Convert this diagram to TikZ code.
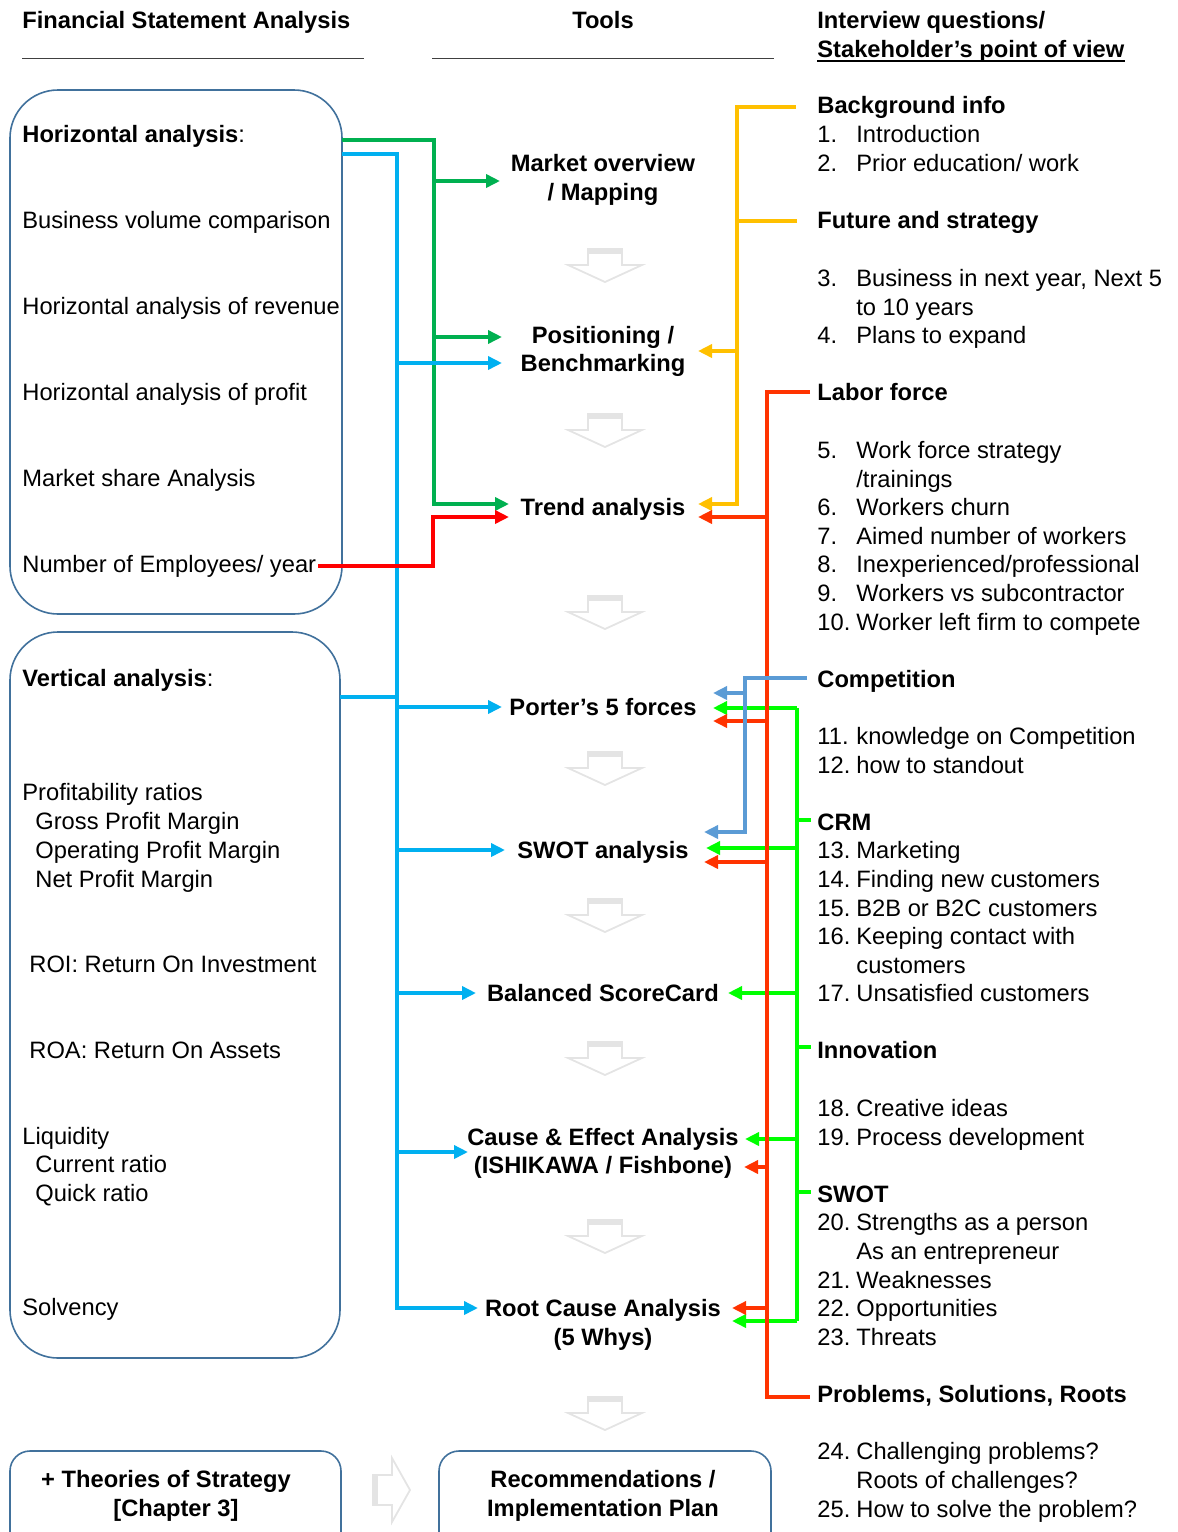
\documentclass[tikz,border=0pt]{standalone}
\usepackage{fontspec}
\setmainfont{Liberation Sans}
\usetikzlibrary{arrows.meta}
\definecolor{dgreen}{HTML}{00B050}
\definecolor{cblue}{HTML}{00B0F0}
\definecolor{cred}{HTML}{FF0000}
\definecolor{cyel}{HTML}{FFC000}
\definecolor{corange}{HTML}{FF3300}
\definecolor{cbgray}{HTML}{5B9BD5}
\definecolor{lgreen}{HTML}{00FF00}
\definecolor{boxblue}{HTML}{41719C}
\definecolor{hollowgray}{HTML}{E4E4E4}
\newcommand\TL[3]{\node[anchor=base west,inner sep=0] at (#1,#2+8) {#3};}
\newcommand\TC[3]{\node[anchor=base,inner sep=0] at (#1,#2+8) {#3};}
\newcommand\IT[3]{\node[anchor=base west,inner sep=0] at (817,#1+8) {#2};\node[anchor=base west,inner sep=0] at (856,#1+8) {#3};}
\newcommand\DARR[1]{%
  \draw[hollow] (588,#1) -- (622,#1) -- (622,#1+16) -- (642,#1+16) -- (605,#1+33) -- (568,#1+16) -- (588,#1+16) -- cycle;
  \fill[hollowgray] (588,#1) rectangle (622,#1+5);}
\begin{document}
\begin{tikzpicture}[x=0.5pt,y=-0.5pt,font=\fontsize{11.85}{14.5}\selectfont,
  hollow/.style={draw=hollowgray,line width=0.9pt,line join=miter},
  fbox/.style={draw=boxblue,line width=0.8pt},
  conn/.style={line width=2pt},
  tip/.style={-{Triangle[length=7pt,width=6.5pt]}},
  ]
\useasboundingbox (0,0) rectangle (1178,1532);
\clip (0,0) rectangle (1178,1532);

% headers
\TL{22}{20}{\bfseries Financial Statement Analysis}
\TC{603}{20}{\bfseries Tools}
\TL{817}{20}{\bfseries Interview questions/}
\node[anchor=base west,inner sep=0] (sh) at (817,57) {\bfseries Stakeholder’s point of view};
\draw[line width=1.1pt] ([yshift=-1.8pt]sh.base west) -- ([yshift=-1.8pt]sh.base east);
\draw[black!75,line width=0.5pt] (22,58) -- (364,58);
\draw[black!75,line width=0.5pt] (432,58) -- (774,58);

% left boxes
\draw[fbox,rounded corners=24pt] (10,90) rectangle (342,614);
\draw[fbox,rounded corners=24pt] (10,632) rectangle (340,1358);
\draw[fbox,rounded corners=10pt] (10,1451) rectangle (341,1580);
\draw[fbox,rounded corners=10pt] (439,1451) rectangle (771,1580);

\TL{22}{134}{{\bfseries Horizontal analysis}:}
\TL{22}{220}{Business volume comparison}
\TL{22}{306}{Horizontal analysis of revenue}
\TL{22}{392}{Horizontal analysis of profit}
\TL{22}{478}{Market share Analysis}
\TL{22}{564}{Number of Employees/ year}

\TL{22}{678}{{\bfseries Vertical analysis}:}
\TL{22}{792}{Profitability ratios}
\TL{35}{821}{Gross Profit Margin}
\TL{35}{850}{Operating Profit Margin}
\TL{35}{879}{Net Profit Margin}
\TL{29}{964}{ROI: Return On Investment}
\TL{29}{1050}{ROA: Return On Assets}
\TL{22}{1136}{Liquidity}
\TL{35}{1164}{Current ratio}
\TL{35}{1193}{Quick ratio}
\TL{22}{1307}{Solvency}

\TC{166}{1479}{\bfseries + Theories of Strategy}
\TC{176}{1508}{\bfseries [Chapter 3]}
\TC{603}{1479}{\bfseries Recommendations /}
\TC{603}{1508}{\bfseries Implementation Plan}

% tools
\TC{603}{163}{\bfseries Market overview}
\TC{603}{192}{\bfseries / Mapping}
\TC{603}{335}{\bfseries Positioning /}
\TC{603}{363}{\bfseries Benchmarking}
\TC{603}{507}{\bfseries Trend analysis}
\TC{603}{707}{\bfseries Porter’s 5 forces}
\TC{603}{850}{\bfseries SWOT analysis}
\TC{603}{993}{\bfseries Balanced ScoreCard}
\TC{603}{1137}{\bfseries Cause \& Effect Analysis}
\TC{603}{1165}{\bfseries (ISHIKAWA / Fishbone)}
\TC{603}{1308}{\bfseries Root Cause Analysis}
\TC{603}{1337}{\bfseries (5 Whys)}

% hollow arrows
\DARR{249}
\DARR{414}
\DARR{596}
\DARR{752}
\DARR{899}
\DARR{1042}
\DARR{1220}
\DARR{1397}
\draw[hollow] (373,1475) -- (392,1475) -- (392,1458) -- (410,1490) -- (392,1522) -- (392,1505) -- (373,1505) -- cycle;
\fill[hollowgray] (373,1475) rectangle (378,1505);

% right column
\TL{817}{105}{\bfseries Background info}
\IT{134}{1.}{Introduction}
\IT{163}{2.}{Prior education/ work}
\TL{817}{220}{\bfseries Future and strategy}
\IT{278}{3.}{Business in next year, Next 5}
\TL{856}{307}{to 10 years}
\IT{335}{4.}{Plans to expand}
\TL{817}{392}{\bfseries Labor force}
\IT{450}{5.}{Work force strategy}
\TL{856}{479}{/trainings}
\IT{507}{6.}{Workers churn}
\IT{536}{7.}{Aimed number of workers}
\IT{564}{8.}{Inexperienced/professional}
\IT{593}{9.}{Workers vs subcontractor}
\IT{622}{10.}{Worker left firm to compete}
\TL{817}{679}{\bfseries Competition}
\IT{736}{11.}{knowledge on Competition}
\IT{765}{12.}{how to standout}
\TL{817}{822}{\bfseries CRM}
\IT{850}{13.}{Marketing}
\IT{879}{14.}{Finding new customers}
\IT{908}{15.}{B2B or B2C customers}
\IT{936}{16.}{Keeping contact with}
\TL{856}{965}{customers}
\IT{993}{17.}{Unsatisfied customers}
\TL{817}{1050}{\bfseries Innovation}
\IT{1108}{18.}{Creative ideas}
\IT{1137}{19.}{Process development}
\TL{817}{1194}{\bfseries SWOT}
\IT{1222}{20.}{Strengths as a person}
\TL{856}{1251}{As an entrepreneur}
\IT{1280}{21.}{Weaknesses}
\IT{1308}{22.}{Opportunities}
\IT{1337}{23.}{Threats}
\TL{817}{1394}{\bfseries Problems, Solutions, Roots}
\IT{1451}{24.}{Challenging problems?}
\TL{856}{1480}{Roots of challenges?}
\IT{1509}{25.}{How to solve the problem?}

% connectors: dark green
\draw[conn,dgreen,tip] (342,140) -| (434,504) -- (509,504);
\draw[conn,dgreen,tip] (434,181) -- (500,181);
\draw[conn,dgreen,tip] (434,337) -- (502,337);
% blue
\draw[conn,cblue,tip] (342,154) -| (397,1308) -- (478,1308);
\draw[conn,cblue] (340,697) -- (397,697);
\draw[conn,cblue,tip] (397,363) -- (502,363);
\draw[conn,cblue,tip] (397,707) -- (502,707);
\draw[conn,cblue,tip] (397,850) -- (505,850);
\draw[conn,cblue,tip] (397,993) -- (476,993);
\draw[conn,cblue,tip] (397,1152) -- (468,1152);
% red
\draw[conn,cred,tip] (318,566) -| (433,517) -- (509,517);
% yellow
\draw[conn,cyel,line width=2.3pt,tip] (796,107) -| (737,504) -- (698,504);
\draw[conn,cyel,line width=2.3pt] (797,221) -- (737,221);
\draw[conn,cyel,line width=2.3pt,tip] (737,351) -- (698,351);
% bright green
\draw[conn,lgreen] (797,708) -- (797,1321);
\draw[conn,lgreen,tip] (797,708) -- (713,708);
\draw[conn,lgreen,tip] (797,848) -- (706,848);
\draw[conn,lgreen,tip] (797,993) -- (728,993);
\draw[conn,lgreen,tip] (797,1139) -- (745,1139);
\draw[conn,lgreen,tip] (797,1321) -- (732,1321);
\draw[conn,lgreen] (797,820) -- (811,820);
\draw[conn,lgreen] (797,1047) -- (811,1047);
\draw[conn,lgreen] (797,1192) -- (811,1192);
% red-orange
\draw[conn,corange,line width=2.4pt] (810,392) -| (767,1397) -- (810,1397);
\draw[conn,corange,tip] (767,517) -- (698,517);
\draw[conn,corange,tip] (767,721) -- (713,721);
\draw[conn,corange,tip] (767,862) -- (704,862);
\draw[conn,corange,tip] (767,1167) -- (744,1167);
\draw[conn,corange,tip] (767,1308) -- (732,1308);
% blue-gray
\draw[conn,cbgray,line width=2.3pt,tip] (807,678) -| (745,832) -- (704,832);
\draw[conn,cbgray,line width=2.3pt,tip] (745,693) -- (713,693);
\end{tikzpicture}
\end{document}
